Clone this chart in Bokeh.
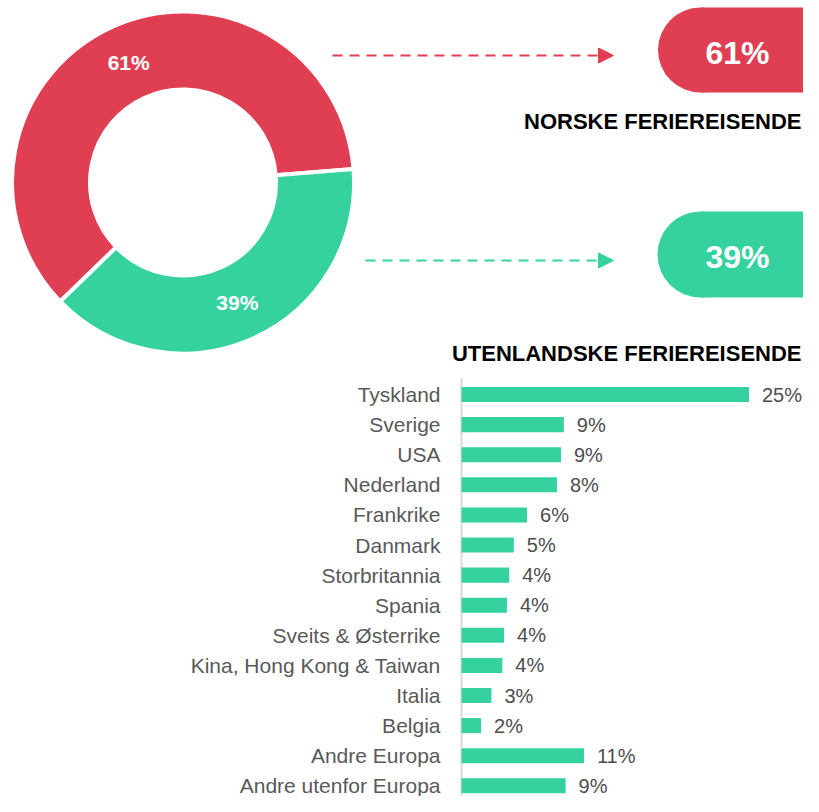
import numpy as np
from bokeh.plotting import figure
from bokeh.models import Range1d, Arrow, NormalHead, ColumnDataSource
from bokeh.core.properties import value
from bokeh.embed import file_html
from bokeh.resources import INLINE

# ---------------- data ----------------
segments = ["Norske feriereisende", "Utenlandske feriereisende"]
shares = [61, 39]
share_labels = ["61%", "39%"]
headings = ["NORSKE FERIEREISENDE", "UTENLANDSKE FERIEREISENDE"]

countries = ["Tyskland", "Sverige", "USA", "Nederland", "Frankrike", "Danmark",
             "Storbritannia", "Spania", "Sveits & Østerrike",
             "Kina, Hong Kong & Taiwan", "Italia", "Belgia", "Andre Europa",
             "Andre utenfor Europa"]
country_values = [25.0, 8.9, 8.65, 8.3, 5.7, 4.55, 4.15, 3.95, 3.7, 3.55, 2.6, 1.7, 10.65, 9.05]
country_labels = ["25%", "9%", "9%", "8%", "6%", "5%", "4%", "4%", "4%", "4%", "3%", "2%", "11%", "9%"]

RED = "#E03F53"
GREEN = "#35D29F"
FONT = "Liberation Sans"
colors = [RED, GREEN]

# ---------------- figure (pixel coordinates for the layout) ----------------
W, H = 803, 796
p = figure(width=W, height=H, x_range=Range1d(0, W), y_range=Range1d(-H, 0),
           output_backend="svg", toolbar_location=None,
           x_axis_location=None, y_axis_location=None, min_border=0)
p.outline_line_color = None
p.xgrid.grid_line_color = None
p.ygrid.grid_line_color = None

# bar-chart scales: percent along x, row index along y
px_per_pct = 11.5
bar_zero = 461
row0, row_step = 394, 30.1
p.extra_x_ranges = {"pct": Range1d(-bar_zero / px_per_pct, (W - bar_zero) / px_per_pct)}
p.extra_y_ranges = {"rows": Range1d((H - row0) / row_step, -row0 / row_step)}

# ---------------- donut ----------------
cx, cy = 182.5, -182.0
r_in, r_out = 93, 171
theta0 = 4.5
frac = np.array(shares, dtype=float) / sum(shares)
cum = np.concatenate([[0.0], np.cumsum(frac)])
start = np.radians(theta0 + 360 * cum[:-1])
end = np.radians(theta0 + 360 * cum[1:])

donut = ColumnDataSource(dict(start=start, end=end, color=colors, seg=segments))
p.annular_wedge(x=cx, y=cy, inner_radius=r_in, outer_radius=r_out,
                start_angle="start", end_angle="end", fill_color="color",
                line_color="white", line_width=4, source=donut)

mid = (start + end) / 2
r_lab = (r_in + r_out) / 2
p.text(x=list(cx + r_lab * np.cos(mid)), y=list(cy + r_lab * np.sin(mid)), text=share_labels,
       text_align="center", text_baseline="middle", text_color="white",
       text_font=value(FONT), text_font_style="bold", text_font_size="21px")

# arrows
arrow_rows = [(-55, 332), (-260, 365)]
for (ay, ax0), col in zip(arrow_rows, colors):
    p.add_layout(Arrow(x_start=ax0, y_start=ay, x_end=613, y_end=ay,
                       line_color=col, line_width=2, line_dash="10 7",
                       end=NormalHead(size=15, fill_color=col, line_color=col)))

# pills
pill_rows = [(-49.5, 42.5), (-254, 43)]
for (py, pr), col in zip(pill_rows, colors):
    p.quad(left=700, right=830, bottom=py - pr, top=py + pr, fill_color=col, line_color=None)
    p.circle(x=700, y=py, radius=pr, fill_color=col, line_color=None)

p.text(x=[737, 737], y=[-52, -256], text=share_labels,
       text_align="center", text_baseline="middle", text_color="white",
       text_font=value(FONT), text_font_style="bold", text_font_size="32px")

p.text(x=[801, 801], y=[-121, -353], text=headings,
       text_align="right", text_baseline="middle", text_color="#000000",
       text_font=value(FONT), text_font_style="bold", text_font_size="22px")

# ---------------- bar chart ----------------
idx = list(range(len(countries)))
src = ColumnDataSource(dict(y=idx, v=country_values, lab=country_labels, name=countries,
                            zero=[0] * len(idx)))

p.segment(x0=0, y0=-0.55, x1=0, y1=14.0, line_color="#d9d9d9", line_width=2,
          x_range_name="pct", y_range_name="rows")
p.hbar(y="y", left=0, right="v", height=0.5, fill_color=GREEN, line_color=None,
       source=src, x_range_name="pct", y_range_name="rows")
p.text(x="v", y="y", text="lab", x_offset=13, text_align="left", text_baseline="middle",
       text_color="#4d4d4d", text_font=value(FONT), text_font_size="20px",
       source=src, x_range_name="pct", y_range_name="rows")
p.text(x="zero", y="y", text="name", x_offset=-21, text_align="right", text_baseline="middle",
       text_color="#595959", text_font=value(FONT), text_font_size="21px",
       source=src, x_range_name="pct", y_range_name="rows")

open("out.html", "w").write(file_html(p, INLINE))
